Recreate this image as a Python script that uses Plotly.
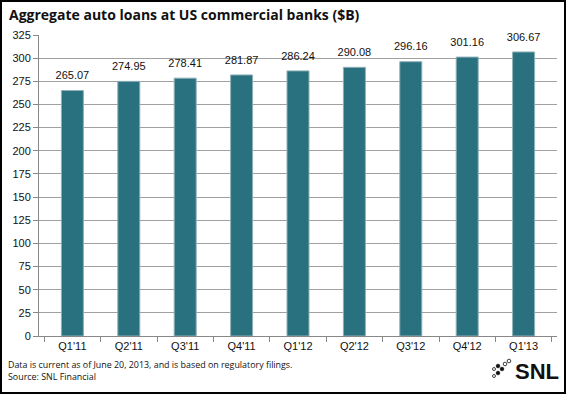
import plotly.graph_objects as go

quarters = ["Q1'11", "Q2'11", "Q3'11", "Q4'11", "Q1'12", "Q2'12", "Q3'12", "Q4'12", "Q1'13"]
loans = [265.07, 274.95, 278.41, 281.87, 286.24, 290.08, 296.16, 301.16, 306.67]
labels = [f"{v:.2f}" for v in loans]

W, H = 566, 394
L, R, T, B = 39, 9, 35, 58
PW, PH = W - L - R, H - T - B


def px(x):
    return (x - L) / PW


def py(y):
    return (H - B - y) / PH


fig = go.Figure()
fig.add_trace(go.Bar(
    x=quarters, y=loans,
    marker=dict(color="#2a717f", line=dict(color="#8fb0b8", width=1)),
    width=0.39, hoverinfo="skip",
))
fig.add_trace(go.Scatter(
    x=quarters, y=loans, mode="markers+text", text=labels, textposition="top center",
    marker=dict(size=12, opacity=0),
    textfont=dict(family="Liberation Sans, Arial", size=11, color="#111"),
    cliponaxis=False, hoverinfo="skip",
))

annotations = [
    dict(text="<b>Aggregate auto loans at US commercial banks ($B)</b>",
         xref="paper", yref="paper", x=px(7), y=py(14), xanchor="left", yanchor="middle",
         showarrow=False, font=dict(family="Open Sans, Noto Sans", size=14, color="#111")),
    dict(text="Data is current as of June 20, 2013, and is based on regulatory filings.<br>Source: SNL Financial",
         xref="paper", yref="paper", x=px(6), y=py(356), xanchor="left", yanchor="top", align="left",
         showarrow=False, font=dict(family="Open Sans, Noto Sans", size=8.9, color="#111")),
    dict(text="<b>SNL</b>", xref="paper", yref="paper", x=px(561), y=py(372), xanchor="right", yanchor="middle",
         showarrow=False, font=dict(family="Liberation Sans, Arial", size=22, color="#111")),
]

shapes = [
    dict(type="rect", xref="paper", yref="paper", x0=px(1), x1=px(565), y0=py(393), y1=py(1),
         line=dict(color="black", width=2)),
]

# dots of the SNL logo (pixel positions converted to paper coordinates)
dots = [(498, 366, 1.8, "#111"), (502, 369, 1.8, "#111"), (498, 373, 1.8, "#111"),
        (494, 369, 1.5, "white"), (505, 364, 1.8, "white"), (509, 361, 1.8, "white"),
        (494, 376, 1.5, "white")]
for x, y, r, c in dots:
    shapes.append(dict(type="circle", xref="paper", yref="paper",
                       x0=px(x - r), x1=px(x + r), y0=py(y + r), y1=py(y - r),
                       line=dict(color="#111", width=0.8), fillcolor=c))

fig.update_layout(
    width=W, height=H,
    margin=dict(l=L, r=R, t=T, b=B),
    paper_bgcolor="white", plot_bgcolor="white",
    showlegend=False,
    font=dict(family="Liberation Sans, Arial", size=11, color="#111"),
    xaxis=dict(
        showline=True, linecolor="#888", linewidth=1,
        ticks="outside", tickcolor="#888", ticklen=5, tickson="boundaries",
        tickfont=dict(size=11, color="#111"),
    ),
    yaxis=dict(
        range=[0, 325], dtick=25, showgrid=True, gridcolor="#a0a0a0", gridwidth=1,
        showline=True, linecolor="#888", linewidth=1,
        ticks="outside", tickcolor="#888", ticklen=5,
        tickfont=dict(size=11, color="#111"), zeroline=False,
    ),
    annotations=annotations,
    shapes=shapes,
)

fig.write_html("out.html", config={"displayModeBar": False},
               post_script="document.body.style.margin='0';document.body.style.overflow='hidden';")
